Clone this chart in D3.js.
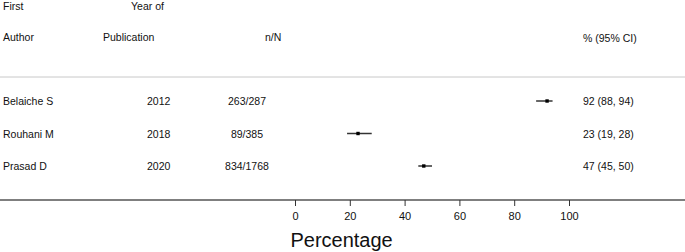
<!DOCTYPE html>
<html>
<head>
<meta charset="utf-8">
<script src="https://cdn.jsdelivr.net/npm/d3@7"></script>
<style>
  body { margin: 0; background: #fff; }
  text { font-family: "Liberation Sans", Arial, sans-serif; }
</style>
</head>
<body>
<div id="forest"></div>
<script>
const authors = ["Belaiche S", "Rouhani M", "Prasad D"];
const years = ["2012", "2018", "2020"];
const events = [263, 89, 834];
const totals = [287, 385, 1768];
const estimates = [92, 23, 47];
const lower = [88, 19, 45];
const upper = [94, 28, 50];
const tickValues = [0, 20, 40, 60, 80, 100];

const width = 685,
  height = 252;

const rows = authors.map((a, i) => ({
  author: a,
  year: years[i],
  nN: events[i] + "/" + totals[i],
  est: estimates[i],
  lo: lower[i],
  hi: upper[i],
}));

const svg = d3
  .select("#forest")
  .append("svg")
  .attr("width", width)
  .attr("height", height);

const x = d3.scaleLinear().domain([0, 100]).range([295, 569]);
const y = d3
  .scalePoint()
  .domain(rows.map((d) => d.author))
  .range([101, 166]);

// header
const header = svg.append("g").attr("font-size", 10.5).attr("fill", "#111");
header.append("text").attr("x", 3).attr("y", 10).text("First");
header.append("text").attr("x", 3).attr("y", 41).text("Author");
header.append("text").attr("x", 131).attr("y", 10).text("Year of");
header.append("text").attr("x", 103).attr("y", 41).text("Publication");
header.append("text").attr("x", 265).attr("y", 41).text("n/N");
header.append("text").attr("x", 583).attr("y", 42).text("% (95% CI)");

svg
  .append("line")
  .attr("x1", 0)
  .attr("x2", width)
  .attr("y1", 77)
  .attr("y2", 77)
  .attr("stroke", "#c8c8c8")
  .attr("stroke-width", 1);

// table rows
const row = svg
  .append("g")
  .attr("font-size", 10.5)
  .attr("fill", "#111")
  .selectAll("g")
  .data(rows)
  .join("g")
  .attr("transform", (d) => `translate(0, ${y(d.author) + 4})`);

row.append("text").attr("x", 3).text((d) => d.author);
row.append("text").attr("x", 147).text((d) => d.year);
row
  .append("text")
  .attr("x", 247)
  .attr("text-anchor", "middle")
  .text((d) => d.nN);
row
  .append("text")
  .attr("x", 583)
  .text((d) => `${d.est} (${d.lo}, ${d.hi})`);

// CI lines and points
const marks = svg.append("g");
marks
  .selectAll("line")
  .data(rows)
  .join("line")
  .attr("x1", (d) => x(d.lo))
  .attr("x2", (d) => x(d.hi))
  .attr("y1", (d) => y(d.author))
  .attr("y2", (d) => y(d.author))
  .attr("stroke", "#333")
  .attr("stroke-width", 1.5);
marks
  .selectAll("rect")
  .data(rows)
  .join("rect")
  .attr("x", (d) => x(d.est) - 1.7)
  .attr("y", (d) => y(d.author) - 1.7)
  .attr("width", 3.4)
  .attr("height", 3.4)
  .attr("fill", "#000");

// axis
svg
  .append("line")
  .attr("x1", 0)
  .attr("x2", width)
  .attr("y1", 200)
  .attr("y2", 200)
  .attr("stroke", "#555")
  .attr("stroke-width", 1.4);

const axis = svg
  .append("g")
  .attr("transform", "translate(0, 200)")
  .call(d3.axisBottom(x).tickValues(tickValues).tickSize(6).tickPadding(6));
axis.select(".domain").remove();
axis.selectAll(".tick line").attr("stroke", "#333");
axis
  .selectAll(".tick text")
  .attr("font-size", 11)
  .attr("font-family", "Liberation Sans, Arial, sans-serif")
  .attr("fill", "#111");

svg
  .append("text")
  .attr("x", x(17))
  .attr("y", 247)
  .attr("text-anchor", "middle")
  .attr("font-size", 20)
  .attr("fill", "#111")
  .text("Percentage");
</script>
</body>
</html>
